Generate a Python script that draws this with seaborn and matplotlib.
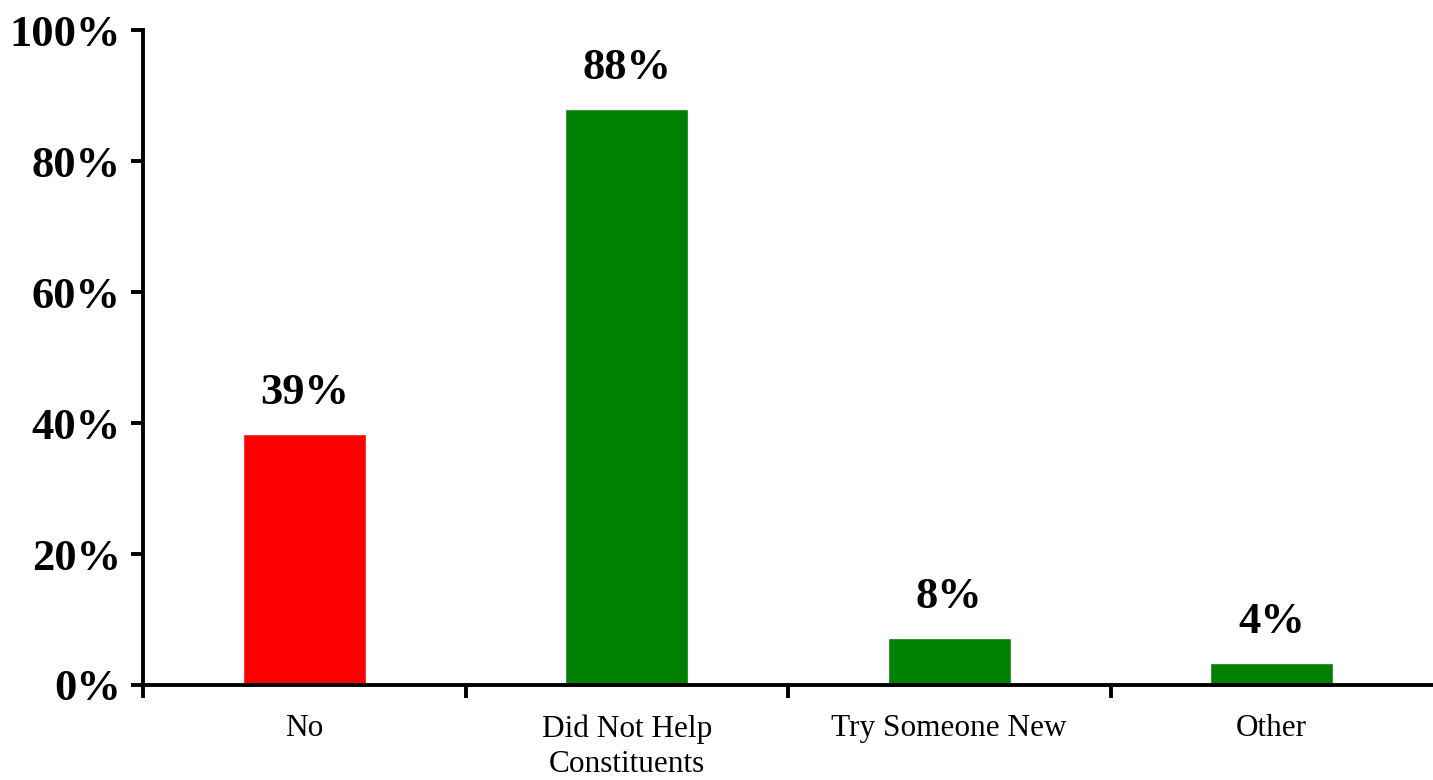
# Survey bar chart
import matplotlib
matplotlib.use("Agg")
import pandas as pd
import matplotlib.pyplot as plt
import seaborn as sns

# Data
categories = ["No", "Did Not Help\nConstituents", "Try Someone New", "Other"]
values = [38.3, 87.9, 7.2, 3.4]
labels = ["39%", "88%", "8%", "4%"]
colors = ["#FF0000", "#008000", "#008000", "#008000"]
yticks = [0, 20, 40, 60, 80, 100]

df = pd.DataFrame({"Category": categories, "Value": values})

sns.set_style("ticks")
plt.rcParams["font.family"] = ["Liberation Serif", "DejaVu Serif"]
plt.rcParams["text.color"] = "black"
plt.rcParams["xtick.color"] = "black"
plt.rcParams["ytick.color"] = "black"

fig = plt.figure(figsize=(14.33, 7.8), dpi=100)
ax = fig.add_axes([0.0998, 0.1218, 0.9002, 0.8397])

sns.barplot(data=df, x="Category", y="Value", hue="Category",
            palette=colors, width=0.38, legend=False, ax=ax, saturation=1)

# value labels above bars
for i, (v, lab) in enumerate(zip(values, labels)):
    ax.annotate(lab, (i, v), xytext=(0, 15), textcoords="offset points",
                ha="center", va="bottom", fontsize=32, fontweight="bold",
                color="black")

ax.set_xlim(-0.5, 3.5)
ax.set_ylim(0, 100)
ax.set_yticks(yticks)
ax.set_yticklabels([f"{t}%" for t in yticks], fontsize=32, fontweight="bold")

# ticks at category boundaries, labels at centres
ax.set_xticks([-0.5, 0.5, 1.5, 2.5])
ax.set_xticklabels([])
ax.set_xticks(range(len(categories)), minor=True)
ax.set_xticklabels(categories, minor=True, fontsize=22.5, linespacing=1.3)
ax.tick_params(axis="x", which="minor", length=0, pad=21)
ax.tick_params(axis="x", which="major", length=9, width=2.8, direction="out")
ax.tick_params(axis="y", length=9, width=2.8, pad=7)

ax.set_xlabel("")
ax.set_ylabel("")
sns.despine(ax=ax)
for s in ["left", "bottom"]:
    ax.spines[s].set_linewidth(2.8)
    ax.spines[s].set_color("black")

fig.savefig("out.png", dpi=100)
